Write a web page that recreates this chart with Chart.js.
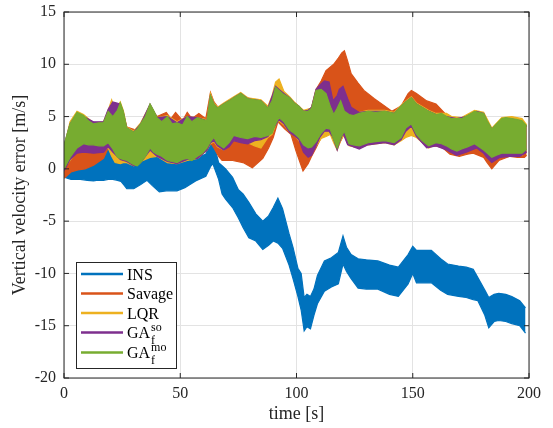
<!DOCTYPE html>
<html><head><meta charset="utf-8">
<script src="https://cdn.jsdelivr.net/npm/chart.js@4.4.1/dist/chart.umd.min.js"></script>
<style>html,body{margin:0;padding:0;background:#fff;}canvas{display:block}</style>
</head><body>
<canvas id="c" width="553" height="428"></canvas>
<script>
// ---- axes / labels ----
const xTicks = [0, 50, 100, 150, 200];
const yTicks = [-20, -15, -10, -5, 0, 5, 10, 15];
const xTitle = 'time [s]';
const yTitle = 'Vertical velocity error [m/s]';
const seriesNames = ['INS', 'Savage', 'LQR', 'GA', 'GA'];
const seriesSup = ['', '', '', 'so', 'mo'];
const seriesSub = ['', '', '', 'f', 'f'];
const seriesColors = ['#0072BD', '#D95319', '#EDB120', '#7E2F8E', '#77AC30'];

// ---- INS envelope (time, upper, lower) ----
const insT  = [0,3,7,10,12.7,14,17,19,21,23,24.5,26,27,30,33,35.7,38,41,44,48.6,52,56.6,61,63,64,66.5,68,69.5,72.5,75,77,79.5,82.5,85.5,88,90,92,94,96.8,98.5,100.6,102,103.3,104.5,106,107.5,109,112,115,118,120,121.5,123.5,126.5,130,135,140,143.8,148,150,151.6,153,158,162,165,169.7,173,176,178,181,182.7,185,187,190,192.6,196,198.5];
const insHi = [0,0.2,0.3,0.5,0.8,1.0,1.5,2.2,2.5,2.4,1.8,1.2,0.8,0.5,0.8,1.4,1.6,1.0,0.9,0.6,0.8,1.1,1.4,3.0,2.8,0.6,0.3,0,-0.8,-2.0,-2.4,-3.2,-4.3,-5.0,-4.5,-3.7,-2.8,-3.8,-6.2,-7.5,-9.5,-10.0,-12.3,-12.0,-12.2,-11.5,-10.2,-8.8,-8.5,-8.0,-6.4,-7.5,-8.2,-8.6,-8.7,-8.8,-9.2,-9.4,-8.2,-7.4,-7.8,-7.8,-7.8,-8.6,-9.1,-9.3,-9.4,-9.6,-10.4,-11.6,-12.3,-12.0,-11.9,-12.0,-12.2,-12.6,-13.3];
const insLo = [-0.8,-1.0,-1.0,-1.1,-1.15,-1.1,-1.1,-1.0,-1.0,-1.1,-1.2,-1.6,-1.9,-1.9,-1.5,-1.1,-1.6,-2.2,-2.1,-2.1,-1.8,-1.15,-0.7,0.2,0.5,-1.0,-2.4,-2.9,-3.7,-4.7,-5.6,-6.6,-6.9,-7.7,-7.3,-6.9,-7.1,-7.6,-9.2,-10.5,-12.2,-13.5,-15.5,-15.1,-15.3,-14.0,-12.9,-11.7,-11.3,-11.0,-9.1,-9.8,-10.5,-11.4,-11.5,-11.5,-12.0,-12.2,-11.0,-10.0,-10.9,-10.9,-10.9,-11.6,-12.0,-12.2,-12.3,-12.5,-12.6,-14.0,-15.2,-14.6,-14.5,-14.6,-14.8,-15.0,-15.7];

// ---- Savage envelope ----
const savT  = [0,3,6,9,12.7,17,19,21,23,24.2,27,31,34,37,40,44,46,48,51,53,55,58,61,63,64.5,66.5,68,72.5,77,81,85.5,88,90,92,95,97.6,99.8,102.8,105,106.5,108.4,110.6,112.7,116,118,119.5,120.6,122,123.5,126.5,129,133.5,138,141,145,148,149.4,151.6,156,160,163,166,170,173.5,176,180.5,182,184,187,191.8,195,198,199];
const savHi = [1.0,3.5,5.0,5.0,4.3,4.4,5.3,5.0,5.5,6.0,4.0,3.7,4.6,6.0,5.0,5.4,4.8,5.4,4.6,5.4,4.8,5.3,4.8,7.3,6.4,5.8,6.0,6.5,7.0,6.6,6.4,5.8,6.6,7.5,7.0,6.6,6.2,5.4,5.4,5.9,7.6,8.4,9.4,10.0,10.6,11.1,11.3,10.3,9.1,8.2,7.5,6.7,6.0,5.5,6.0,7.2,7.5,7.2,6.5,6.2,5.5,4.8,4.7,5.0,5.3,5.2,4.5,3.7,4.4,4.7,4.6,4.4,4.0];
const savLo = [-0.9,-0.3,-0.1,0,0.35,1.0,2.0,2.0,1.0,0.9,0.8,0.4,1.0,1.9,1.3,0.7,0.6,0.5,0.8,0.9,0.9,1.1,1.9,2.5,2.0,1.2,0.8,0.8,0.6,0.1,1.0,2.0,3.0,4.5,3.8,3.3,1.7,-0.2,0.5,1.2,2.0,3.0,3.7,3.0,2.2,2.9,3.4,2.4,2.2,2.0,2.3,2.5,2.6,2.4,2.9,3.8,4.1,3.2,2.1,2.2,2.0,1.4,1.2,1.4,1.5,1.1,0.6,0,0.8,1.2,1.1,1.1,1.3];

// ---- LQR envelope ----
const lqrT  = [0,2.6,5.6,8.4,12.7,17,19,20.5,22,24.2,25.5,27,30,33,37,40,44.5,48.6,53,57.4,61.5,63,64.5,66,68.7,73,76,79,82,84.7,87.7,89.5,91,92.5,94.6,97,99,103,106.5,108.4,110.6,112.7,114.5,116,117.5,119,120.6,122.6,127,130.8,138,142,145,147,149.4,151.6,156.8,160,164.5,166.7,171,176.6,180.5,184,188.3,192.6,197,199];
const lqrHi = [2.0,4.5,5.5,5.2,4.4,4.5,5.6,6.6,5.6,6.4,5.6,4.0,3.6,4.4,6.1,4.9,5.1,4.5,5.0,4.9,4.7,7.2,6.3,5.9,6.3,6.9,7.3,6.8,6.7,6.6,6.0,7.0,8.3,8.6,7.4,6.9,6.4,5.6,5.8,7.4,7.5,7.0,6.0,5.3,5.8,6.3,5.6,5.3,5.4,5.6,5.6,5.4,6.1,6.5,6.9,6.3,5.6,5.3,5.3,5.0,4.9,5.6,5.4,3.9,4.9,5.0,4.8,4.2];
const lqrLo = [0,0.8,1.7,1.9,1.8,1.8,2.0,1.2,0.6,0.5,0.6,0.6,0.3,0.7,1.1,1.2,0.6,0.5,0.8,1.0,1.8,2.4,2.6,2.1,1.8,2.8,2.6,2.5,2.2,2.0,3.0,3.3,4.2,4.6,4.2,3.5,3.3,2.1,1.8,2.2,2.9,3.1,3.3,2.5,1.8,2.7,3.3,2.2,2.0,2.3,2.5,2.3,2.7,3.0,3.2,3.0,2.0,2.3,2.0,1.6,1.8,2.2,1.6,0.9,1.3,1.3,1.3,1.7];

// ---- GA_f^so envelope ----
const gasoT  = [0,2.6,5.6,8.4,12.7,17,19,21,24.2,25.5,27,30,33,37,40,44.5,48.6,53,57.4,61.5,63,64.5,66,68.7,71,73,76,79,82,84.7,87.7,91,92.5,94.6,97,99,101,103,105,106.5,108.4,110,112,114,115.7,117.5,118.4,120,122,123.5,127,130.8,138,142,145,147,149.4,151.6,156,160,164.5,168.9,173,177.5,180.5,181.8,184,187.5,191.8,196,199];
const gasoHi = [2.2,4.3,5.3,5.0,4.5,4.5,5.7,6.4,6.2,5.4,3.9,3.5,4.3,6.2,4.9,5.0,4.4,5.0,4.9,4.6,7.0,6.2,5.8,6.2,6.5,6.8,7.2,6.7,6.6,6.5,5.8,7.9,7.6,7.2,6.8,6.3,6.0,5.5,5.6,5.9,7.6,8.0,8.4,8.3,6.5,7.0,7.6,7.9,6.7,5.9,5.4,5.5,5.5,5.3,6.0,6.4,6.8,6.2,5.6,5.2,5.0,4.8,5.0,5.5,5.3,4.6,3.8,4.5,4.8,4.6,4.1];
const gasoLo = [-0.2,0.9,1.5,1.6,1.5,1.6,2.1,1.6,0.9,0.8,0.7,0.3,0.6,1.8,1.2,0.7,0.5,0.9,1.0,1.8,2.5,2.7,2.2,1.8,2.1,2.7,2.5,2.4,2.7,2.8,3.1,4.2,4.7,4.3,3.5,3.2,2.8,1.6,1.1,1.3,2.2,3.0,3.6,3.6,3.0,1.8,2.5,3.4,2.3,2.2,1.9,2.3,2.5,2.3,2.8,3.6,4.1,3.1,2.0,2.2,1.8,1.3,1.6,2.0,1.5,1.1,0.6,1.1,1.2,1.2,1.6];

// ---- GA_f^mo envelope ----
const gamoT  = [0,2.6,5.6,8.4,10.5,12.7,15,17,19,21,23,24.2,25.5,27,30,31.5,33,35,37,38.5,40,42,44.5,46.5,48.6,51,53,55,57.4,59.5,61.5,63,64.5,66,68.7,71,73,76,79,82,84.7,87.7,89.5,91,92.5,94.6,97,99,101,103,105,106.5,108.4,110.6,112.7,114.5,116,117.5,119,120.6,122.6,124.5,127,130.8,134,138,142,145,147,149.4,151.6,154,156.8,160,162.4,164.5,166.7,169,171,173.5,176.6,180.5,182,184,186,188.3,190,192.6,195,197,199];
const gamoHi = [2.3,4.3,5.4,5.1,4.6,4.3,4.4,4.4,5.5,5.0,5.6,6.3,5.5,3.9,3.5,3.8,4.3,5.0,6.2,5.6,4.9,4.5,5.0,4.3,4.4,4.2,5.0,4.5,4.9,4.7,4.6,7.0,6.2,5.8,6.2,6.5,6.8,7.2,6.7,6.6,6.5,5.8,6.5,7.8,7.5,7.1,6.8,6.3,6.0,5.5,5.5,5.8,7.5,7.6,7.2,6.0,5.2,5.8,6.5,5.5,5.2,5.1,5.3,5.5,5.4,5.5,5.3,6.0,6.4,6.8,6.2,5.9,5.5,5.2,5.3,5.0,4.8,4.8,4.8,5.1,5.5,5.3,4.6,3.8,4.3,4.8,4.9,4.8,4.7,4.6,4.1];
const gamoLo = [0,1.1,2.0,2.4,2.3,2.3,2.2,2.2,2.5,1.9,1.1,1.0,0.9,0.8,0.4,0.3,0.6,1.2,2.0,1.6,1.4,1.2,0.8,0.7,0.6,0.9,1.0,0.8,1.2,1.5,2.0,2.6,3.0,2.4,2.0,2.5,3.2,3.0,2.9,3.1,3.0,3.2,3.4,4.3,4.9,4.5,3.7,3.4,3.0,2.3,2.0,2.1,2.6,3.4,3.9,3.8,2.8,2.0,3.0,3.6,2.4,2.3,2.2,2.5,2.6,2.7,2.5,3.0,3.9,4.3,3.3,2.7,2.2,2.5,2.4,2.2,1.9,1.7,1.9,2.1,2.4,1.8,1.5,1.1,1.3,1.5,1.5,1.5,1.5,1.5,1.9];

// ---- build band datasets ----
function pts(t, v) { return t.map((x, i) => ({ x: x, y: v[i] })); }
function band(idx, t, hi, lo) {
  const c = seriesColors[idx];
  return [
    { label: seriesNames[idx] + seriesSup[idx], data: pts(t, hi), borderColor: c, backgroundColor: c, borderWidth: 1.2, pointRadius: 0, fill: '+1', tension: 0 },
    { label: seriesNames[idx] + seriesSup[idx] + ' lo', data: pts(t, lo), borderColor: c, backgroundColor: c, borderWidth: 1.2, pointRadius: 0, fill: false, tension: 0 }
  ];
}
const datasets = [].concat(
  band(4, gamoT, gamoHi, gamoLo),
  band(3, gasoT, gasoHi, gasoLo),
  band(2, lqrT, lqrHi, lqrLo),
  band(1, savT, savHi, savLo),
  band(0, insT, insHi, insLo)
);

const axisColor = '#262626';
const serif = '"Liberation Serif", "Times New Roman", serif';

const frame = {
  id: 'frame',
  afterDatasetsDraw(chart) {
    const ctx = chart.ctx, a = chart.chartArea;
    const xs = chart.scales.x, ys = chart.scales.y;
    ctx.save();
    ctx.strokeStyle = axisColor; ctx.lineWidth = 1;
    ctx.strokeRect(a.left, a.top, a.right - a.left, a.bottom - a.top);
    const L = 5;
    ctx.beginPath();
    xTicks.forEach(v => {
      const p = xs.getPixelForValue(v);
      ctx.moveTo(p, a.bottom); ctx.lineTo(p, a.bottom - L);
      ctx.moveTo(p, a.top); ctx.lineTo(p, a.top + L);
    });
    yTicks.forEach(v => {
      const p = ys.getPixelForValue(v);
      ctx.moveTo(a.left, p); ctx.lineTo(a.left + L, p);
      ctx.moveTo(a.right, p); ctx.lineTo(a.right - L, p);
    });
    ctx.stroke();
    ctx.restore();
  },
  afterDraw(chart) {
    const ctx = chart.ctx;
    const bx = 76, by = 262, bw = 100, bh = 106;
    ctx.save();
    ctx.fillStyle = '#fff';
    ctx.fillRect(bx, by, bw, bh);
    ctx.strokeStyle = axisColor; ctx.lineWidth = 1;
    ctx.strokeRect(bx + 0.5, by + 0.5, bw, bh);
    const rowY = [274, 293.5, 313, 332.5, 352.5];
    seriesNames.forEach((name, i) => {
      const y = rowY[i];
      ctx.strokeStyle = seriesColors[i]; ctx.lineWidth = 2.6;
      ctx.beginPath(); ctx.moveTo(81, y); ctx.lineTo(123, y); ctx.stroke();
      ctx.fillStyle = '#000';
      ctx.font = '16px ' + serif;
      ctx.textBaseline = 'alphabetic';
      let base = y + 5.5;
      if (seriesSup[i]) base = y + 5;
      ctx.fillText(name, 127, base);
      if (seriesSup[i]) {
        const w = ctx.measureText(name).width;
        ctx.font = '12px ' + serif;
        ctx.fillText(seriesSup[i], 127 + w + 1, base - 7);
        ctx.fillText(seriesSub[i], 127 + w + 1, base + 6);
      }
    });
    ctx.restore();
  }
};

new Chart(document.getElementById('c'), {
  type: 'line',
  data: { datasets: datasets },
  options: {
    responsive: false,
    animation: false,
    devicePixelRatio: 1,
    layout: { padding: { left: 0, right: 24, top: 12, bottom: 0 } },
    plugins: {
      legend: { display: false },
      tooltip: { enabled: false },
      filler: { drawTime: 'beforeDatasetDraw' }
    },
    scales: {
      x: {
        type: 'linear', min: 0, max: 200,
        afterBuildTicks: s => { s.ticks = xTicks.map(v => ({ value: v })); },
        afterFit: s => { s.height = 50; s.paddingLeft = 0; s.paddingRight = 0; },
        ticks: { font: { family: serif, size: 16 }, color: axisColor, padding: 6, maxRotation: 0, callback: v => String(v) },
        grid: { color: '#e3e3e3', drawTicks: false },
        border: { display: false },
        title: { display: true, text: xTitle, font: { family: serif, size: 18 }, color: axisColor, padding: { top: 0, bottom: 3 } }
      },
      y: {
        type: 'linear', min: -20, max: 15,
        afterBuildTicks: s => { s.ticks = yTicks.map(v => ({ value: v })); },
        afterFit: s => { s.width = 64; s.paddingTop = 0; s.paddingBottom = 0; },
        ticks: { font: { family: serif, size: 16 }, color: axisColor, padding: 8, callback: v => String(v) },
        grid: { color: '#e3e3e3', drawTicks: false },
        border: { display: false },
        title: { display: true, text: yTitle, font: { family: serif, size: 18 }, color: axisColor, padding: { top: 9, bottom: 0 } }
      }
    }
  },
  plugins: [frame]
});
</script>
</body></html>
